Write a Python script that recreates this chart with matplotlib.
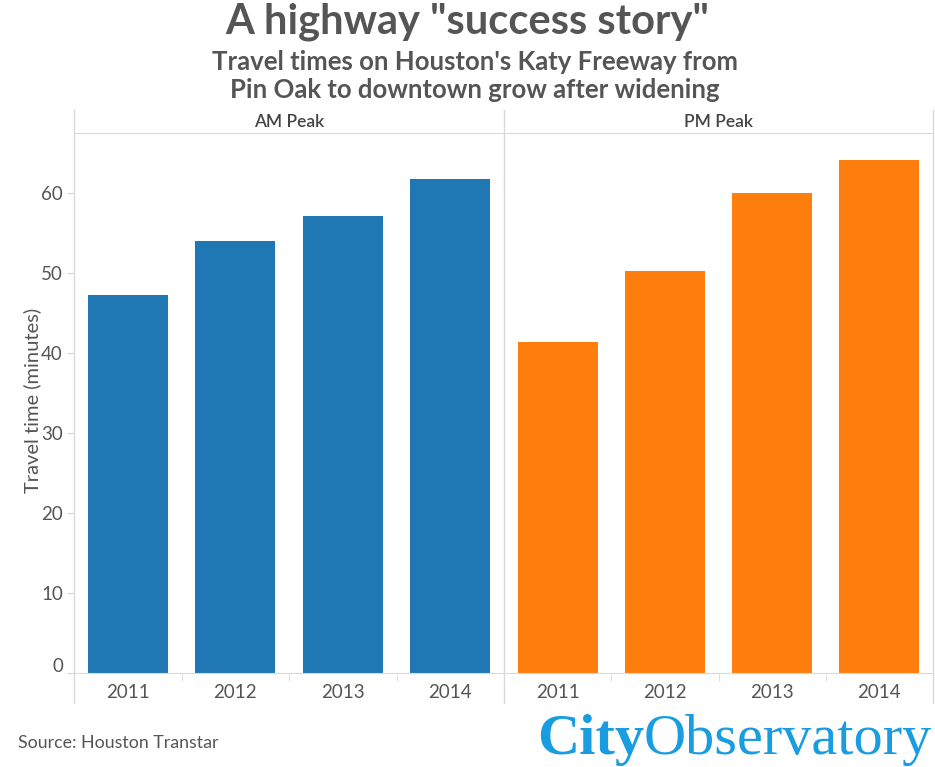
import matplotlib.pyplot as plt
import matplotlib.transforms as mtransforms
from matplotlib.lines import Line2D

# data
years = ["2011", "2012", "2013", "2014"]
panels = ["AM Peak", "PM Peak"]
am_peak = [47.3, 54.0, 57.1, 61.7]
pm_peak = [41.4, 50.2, 60.0, 64.1]
colors = ["#1f77b4", "#ff7f0e"]
yticks = [0, 10, 20, 30, 40, 50, 60]

grey = "#d9d9d9"
text_c = "#555555"
font = "Lato"

fig = plt.figure(figsize=(9.35, 7.67), dpi=100)

W, H = 935, 767
ax_l = fig.add_axes([74 / W, (H - 673) / H, 430 / W, 540 / H])
ax_r = fig.add_axes([504 / W, (H - 673) / H, 429 / W, 540 / H], sharey=ax_l)

for ax, vals, col, name in zip([ax_l, ax_r], [am_peak, pm_peak], colors, panels):
    x = range(len(years))
    ax.bar(x, vals, width=0.745, color=col)
    ax.set_xlim(-0.5, len(years) - 0.5)
    ax.set_ylim(0, 67.5)
    for s in ax.spines.values():
        s.set_visible(False)
    ax.spines["bottom"].set_visible(True)
    ax.spines["bottom"].set_color(grey)
    ax.spines["top"].set_visible(True)
    ax.spines["top"].set_color(grey)
    ax.set_xticks(list(x))
    ax.set_xticklabels(years, fontsize=13.5, color=text_c, family=font)
    ax.tick_params(axis="x", length=0, pad=8)
    ax.set_xticks([i + 0.5 for i in range(len(years) - 1)], minor=True)
    ax.tick_params(axis="x", which="minor", length=6, color=grey)
    # vertical frame lines that reach into the header and the label strip
    ax.add_line(Line2D([0, 0], [-0.056, 1.043], transform=ax.transAxes,
                       color=grey, lw=1, clip_on=False))
    ax.text(0.5, 1.021, name, transform=ax.transAxes, ha="center", va="center",
            fontsize=12.5, color="#444444", family=font, fontweight="semibold")

ax_r.add_line(Line2D([1, 1], [-0.056, 1.043], transform=ax_r.transAxes,
                     color=grey, lw=1, clip_on=False))

ax_l.set_yticks(yticks)
ax_l.set_yticklabels([str(t) for t in yticks], fontsize=13.5, color=text_c, family=font)
ax_l.tick_params(axis="y", length=5, color=grey, pad=3)
ax_r.tick_params(axis="y", left=False, labelleft=False)

# the "0" label sits a bit above the baseline in the original
lbl0 = ax_l.get_yticklabels()[0]
lbl0.set_transform(lbl0.get_transform() + mtransforms.ScaledTranslation(0, 8 / 100, fig.dpi_scale_trans))

fig.text(32 / W, 1 - 400 / H, "Travel time (minutes)", rotation=90, ha="center",
         va="center", fontsize=14.5, color=text_c, family=font)

fig.text(467 / W, 1 - 22 / H, 'A highway "success story"', ha="center", va="center",
         fontsize=30, fontweight="bold", color="#555555", family=font)
fig.text(475 / W, 1 - 76 / H, "Travel times on Houston's Katy Freeway from\nPin Oak to downtown grow after widening",
         ha="center", va="center", fontsize=18.5, fontweight="bold", color="#555555",
         family=font, linespacing=1.15)

fig.text(18 / W, 1 - 743 / H, "Source: Houston Transtar", ha="left", va="center",
         fontsize=12.8, color=text_c, family=font)

logo_c = "#1a9de0"
t1 = fig.text(537 / W, 1 - 740 / H, "City", ha="left", va="center", fontsize=42,
              fontweight="bold", color=logo_c, family="Liberation Serif")
fig.canvas.draw()
bb = t1.get_window_extent()
fig.text(bb.x1 / W, 1 - 740 / H, "Observatory", ha="left", va="center", fontsize=42,
         color=logo_c, family="Liberation Serif")

fig.savefig("out.png", dpi=100)
